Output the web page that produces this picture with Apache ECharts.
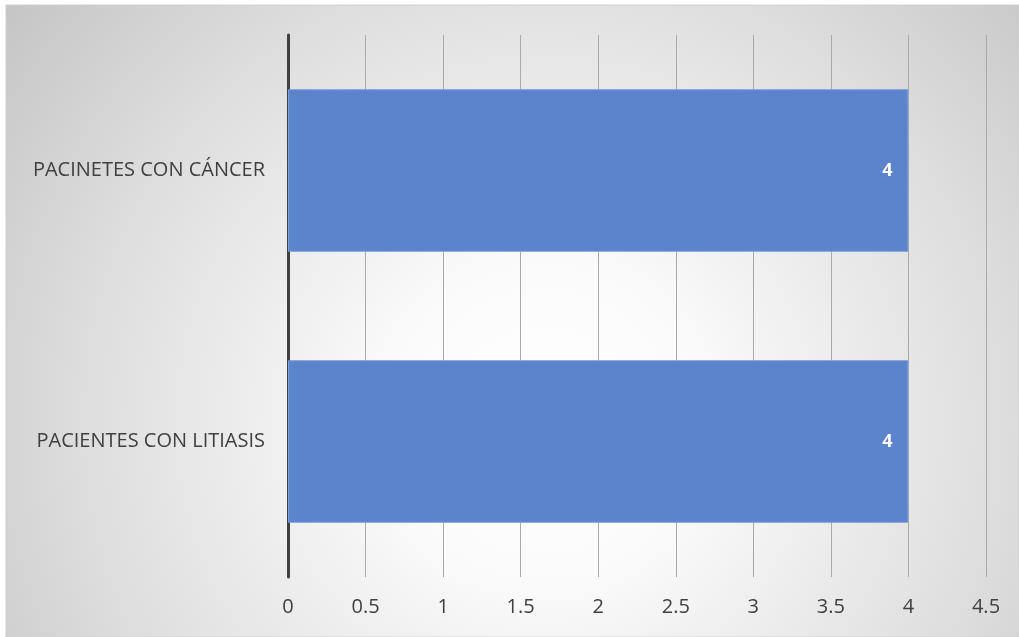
<!DOCTYPE html>
<html>
<head>
<meta charset="utf-8">
<style>
  html, body { margin: 0; padding: 0; background: #ffffff; }
  #chart { width: 1019px; height: 637px; }
</style>
<script src="https://cdn.jsdelivr.net/npm/echarts@6/dist/echarts.min.js"></script>
</head>
<body>
<div id="chart"></div>
<script>
// Categories listed bottom to top
const categories = ['PACIENTES CON LITIASIS', 'PACINETES CON CÁNCER'];
const values = [4, 4];
const xTicks = { min: 0, max: 4.5, interval: 0.5 };

const chart = echarts.init(document.getElementById('chart'));
const font = '"Open Sans", "Noto Sans", sans-serif';

chart.setOption({
  backgroundColor: '#ffffff',
  animation: false,
  graphic: [{
    type: 'rect',
    z: -10,
    silent: true,
    shape: { x: 6, y: 5, width: 1013, height: 632 },
    style: {
      fill: {
        type: 'radial', x: 0.53, y: 0.66, r: 1.2,
        colorStops: [
          { offset: 0, color: '#ffffff' },
          { offset: 0.2, color: '#fbfbfb' },
          { offset: 0.6, color: '#dedede' },
          { offset: 1, color: '#bcbcbc' }
        ]
      },
      stroke: '#d0d0d0',
      lineWidth: 1
    }
  }],
  grid: { left: 288, right: 33, top: 35, bottom: 60, containLabel: false },
  xAxis: {
    type: 'value',
    min: xTicks.min, max: xTicks.max, interval: xTicks.interval,
    axisLine: { show: false },
    axisTick: { show: false },
    axisLabel: {
      margin: 20, color: '#404040', fontSize: 20, fontFamily: font
    },
    splitLine: { show: true, lineStyle: { color: '#aaaaaa', width: 1 } }
  },
  yAxis: {
    type: 'category',
    data: categories,
    axisLine: { show: true, lineStyle: { color: '#404040', width: 3 } },
    axisTick: { show: false },
    axisLabel: {
      margin: 23, color: '#404040', fontSize: 20, fontFamily: font
    },
    splitLine: { show: false }
  },
  series: [{
    type: 'bar',
    data: values,
    barWidth: '60%',
    itemStyle: {
      color: '#5b84cc',
      borderColor: '#7d9fdb',
      borderWidth: 1
    },
    label: {
      show: true,
      position: 'insideRight',
      distance: 16,
      color: '#ffffff',
      fontWeight: 'bold',
      fontSize: 18,
      fontFamily: font
    }
  }]
});
</script>
</body>
</html>
